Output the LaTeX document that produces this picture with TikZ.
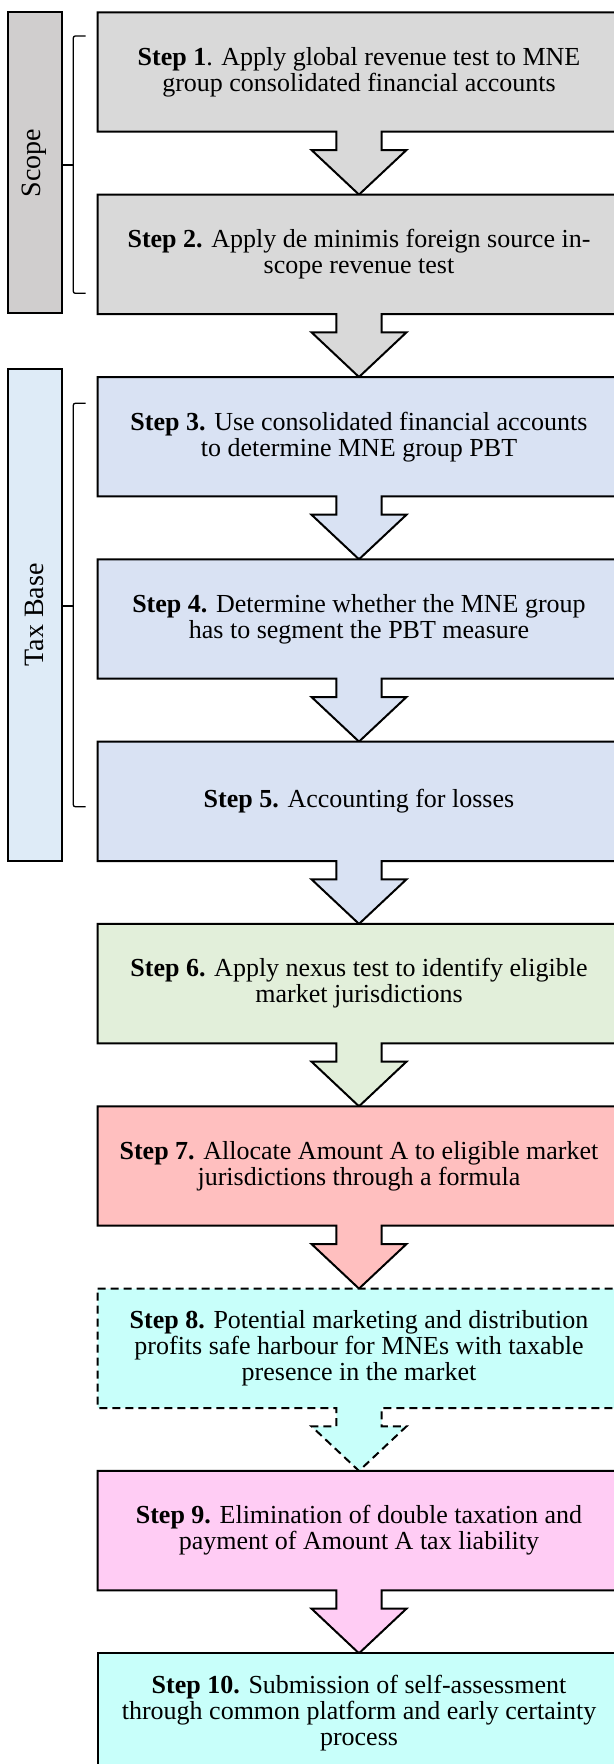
\documentclass[tikz,border=0pt]{standalone}
\usepackage{fontspec}
\setmainfont{Liberation Serif}
\usetikzlibrary{calc,backgrounds}

\definecolor{scopegray}{HTML}{D0CECE}
\definecolor{stepgray}{HTML}{D9D9D9}
\definecolor{taxblue}{HTML}{DEEBF7}
\definecolor{stepblue}{HTML}{D9E2F3}
\definecolor{stepgreen}{HTML}{E2EFDA}
\definecolor{stepsalmon}{HTML}{FFBFBF}
\definecolor{stepcyan}{HTML}{C8FFFA}
\definecolor{steppink}{HTML}{FFCCF4}

\tikzset{
  stepnode/.style={rectangle, minimum width=522.6pt, minimum height=119.4pt,
    inner sep=0pt, outer sep=0pt, align=center,
    font=\fontsize{26}{26}\selectfont},
  outline/.style={draw=black, line width=2pt},
  dashedoutline/.style={outline, dash pattern=on 8pt off 5pt},
  sidebox/.style={rectangle, draw=black, line width=2pt, minimum width=54pt,
    inner sep=0pt, outer sep=0pt},
  sidelabel/.style={font=\fontsize{28}{30}\selectfont, rotate=90},
  brace/.style={draw=black, line width=1.3pt, rounded corners=2pt},
}

% box outline with a block arrow pointing down to the next box
\newcommand\flowbox[3]{%
  \path[#3] (#1.north west) -- (#1.north east) -- (#1.south east)
    -- ($(#1.south)+(22.7,0)$) -- ($(#1.south)+(22.7,18.3)$)
    -- ($(#1.south)+(47.5,18.3)$) -- (#2.north)
    -- ($(#1.south)+(-47.5,18.3)$) -- ($(#1.south)+(-22.7,18.3)$)
    -- ($(#1.south)+(-22.7,0)$) -- (#1.south west) -- cycle;}

\begin{document}
\begin{tikzpicture}[x=1pt,y=-1pt]
\useasboundingbox (0,0) rectangle (613,1764);
\clip (0,0) rectangle (613,1764);

% step texts
\node[stepnode] (s1) at (359,72.0) {\textbf{Step 1}. Apply global revenue test to MNE\\group consolidated financial accounts};
\node[stepnode] (s2) at (359,254.3) {\textbf{Step 2.} Apply de minimis foreign source in-\\scope revenue test};
\node[stepnode] (s3) at (359,436.7) {\textbf{Step 3.} Use consolidated financial accounts\\to determine MNE group PBT};
\node[stepnode] (s4) at (359,619.0) {\textbf{Step 4.} Determine whether the MNE group\\has to segment the PBT measure};
\node[stepnode] (s5) at (359,801.3) {\textbf{Step 5.} Accounting for losses};
\node[stepnode] (s6) at (359,983.6) {\textbf{Step 6.} Apply nexus test to identify eligible\\market jurisdictions};
\node[stepnode] (s7) at (359,1166.0) {\textbf{Step 7.} Allocate Amount A to eligible market\\jurisdictions through a formula};
\node[stepnode] (s8) at (359,1348.3) {\textbf{Step 8.} Potential marketing and distribution\\profits safe harbour for MNEs with taxable\\presence in the market};
\node[stepnode] (s9) at (359,1530.6) {\textbf{Step 9.} Elimination of double taxation and\\payment of Amount A tax liability};
\node[stepnode] (s10) at (359,1713.0) {\textbf{Step 10.} Submission of self-assessment\\through common platform and early certainty\\process};

% boxes and block arrows behind the texts
\begin{pgfonlayer}{background}
  \flowbox{s1}{s2}{outline, fill=stepgray}
  \flowbox{s2}{s3}{outline, fill=stepgray}
  \flowbox{s3}{s4}{outline, fill=stepblue}
  \flowbox{s4}{s5}{outline, fill=stepblue}
  \flowbox{s5}{s6}{outline, fill=stepblue}
  \flowbox{s6}{s7}{outline, fill=stepgreen}
  \flowbox{s7}{s8}{outline, fill=stepsalmon}
  \flowbox{s8}{s9}{dashedoutline, fill=stepcyan}
  \flowbox{s9}{s10}{outline, fill=steppink}
  \path[outline, fill=stepcyan] (s10.north west) rectangle (s10.south east);
\end{pgfonlayer}

% side panels
\node[sidebox, fill=scopegray, minimum height=301pt] (scope) at (34.5,162.8) {};
\node[sidelabel] (scopelabel) at (scope.center) {Scope};
\node[sidebox, fill=taxblue, minimum height=491.3pt] (taxbase) at (34.5,614.9) {};
\node[sidelabel] (taxlabel) at (taxbase.center) {Tax Base};

% brackets
\coordinate (scopetop) at (73.3,36);
\coordinate (scopebot) at (73.3,293.3);
\coordinate (scopemid) at (73.3,165);
\draw[brace] ($(scopetop)+(12.2,0)$) -- (scopetop) -- (scopebot) -- ++(12.2,0);
\draw[brace] (scope.east |- scopemid) -- (scopemid);

\coordinate (taxtop) at (73.3,403.3);
\coordinate (taxbot) at (73.3,806.7);
\coordinate (taxmid) at (73.3,606);
\draw[brace] ($(taxtop)+(12.2,0)$) -- (taxtop) -- (taxbot) -- ++(12.2,0);
\draw[brace] (taxbase.east |- taxmid) -- (taxmid);
\end{tikzpicture}
\end{document}
